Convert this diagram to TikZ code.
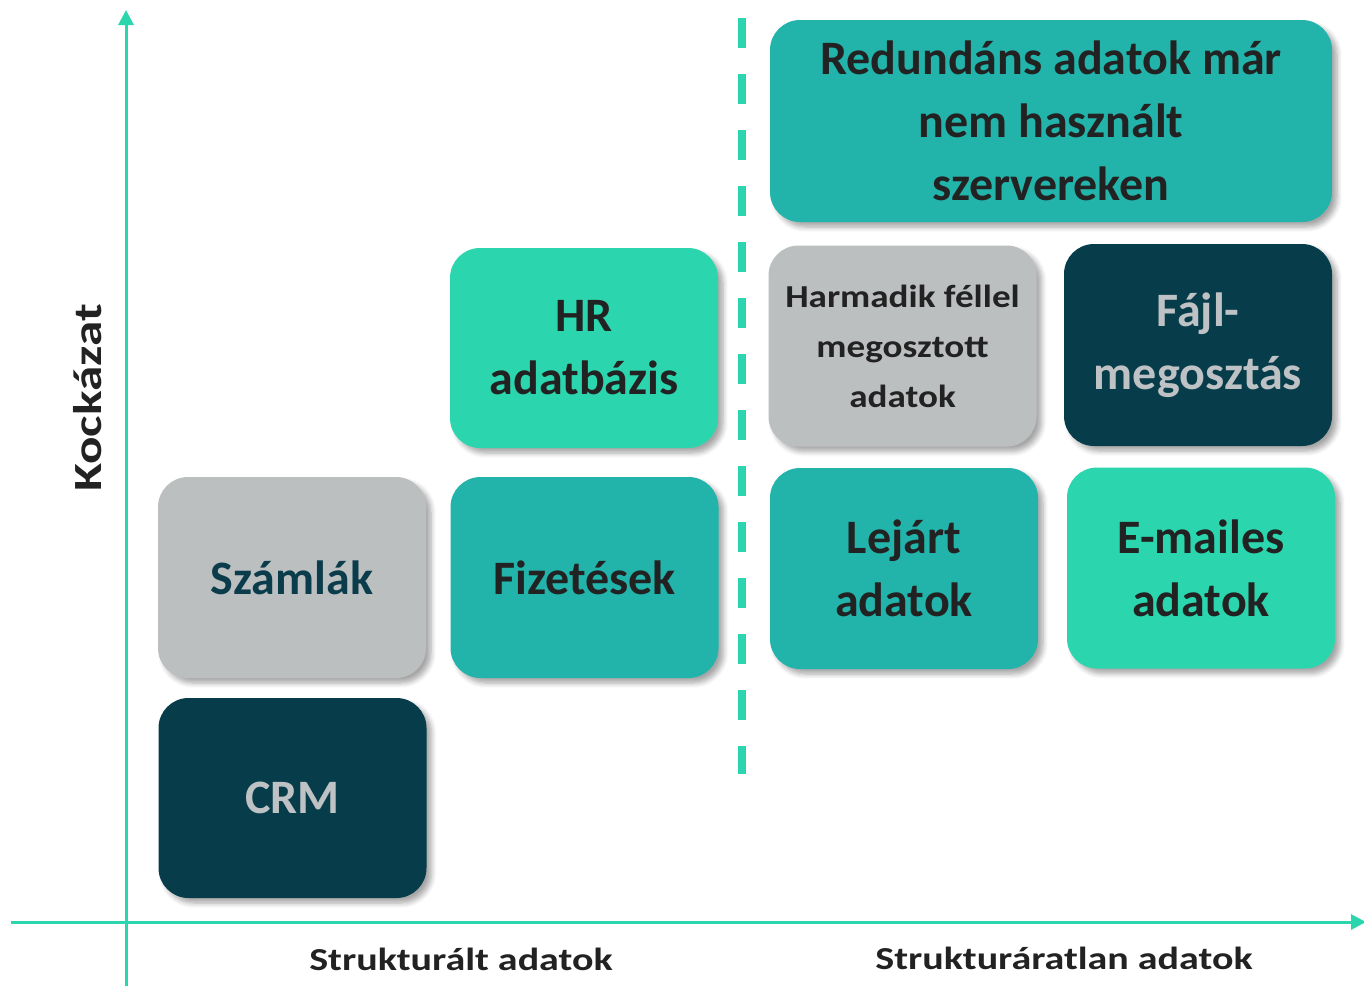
\documentclass[tikz,border=0pt]{standalone}
\usepackage{fontspec}
\setmainfont{Carlito}
\newfontfamily\labelfont[FakeStretch=1.25]{Carlito}
\newfontfamily\kockfont[FakeStretch=1.28]{Carlito}
\newfontfamily\harmfont[FakeStretch=1.16]{Carlito}
\usetikzlibrary{arrows.meta,shadows.blur}
\definecolor{mint}{HTML}{2BD6AE}
\definecolor{tealc}{HTML}{22B3AA}
\definecolor{darkc}{HTML}{073D4B}
\definecolor{grayc}{HTML}{BCBFC0}
\definecolor{txtdark}{HTML}{222222}
\definecolor{txtlight}{HTML}{BEC2C4}
\definecolor{txtnavy}{HTML}{0B3C4B}
\tikzset{
  card/.style={rectangle, rounded corners=30pt, minimum width=268pt, minimum height=201pt,
    align=center, inner sep=0pt, font=\bfseries\fontsize{48}{63}\selectfont,
    blur shadow={shadow xshift=5pt, shadow yshift=-5pt, shadow blur steps=6, shadow blur radius=5pt, shadow opacity=35}},
  mintcard/.style={card, fill=mint, text=txtdark},
  tealcard/.style={card, fill=tealc, text=txtdark},
  darkcard/.style={card, fill=darkc, text=txtlight},
  graycard/.style={card, fill=grayc},
  axis/.style={draw=mint, line width=3pt},
  axlabel/.style={font=\labelfont\bfseries\fontsize{32}{40}\selectfont, text=txtdark, inner sep=0pt},
}
\begin{document}
\begin{tikzpicture}[x=1pt,y=-1pt]
\useasboundingbox (0,0) rectangle (1364,986);
% axes
\coordinate (vbot) at (126,986);
\coordinate (vtop) at (126,10);
\coordinate (hleft) at (11,922);
\coordinate (hright) at (1366,922);
\draw[axis,-{Triangle[length=15pt,width=15pt]}] (vbot) -- (vtop);
\draw[axis,-{Triangle[length=15pt,width=15pt]}] (hleft) -- (hright);
% dashed separator
\coordinate (dtop) at (742,18);
\coordinate (dbot) at (742,774);
\draw[draw=mint, line width=8pt, dash pattern=on 30pt off 26pt] (dtop) -- (dbot);
% cards
\node[tealcard, minimum width=562pt, minimum height=202pt] (red) at (1051,121) {Redundáns adatok már\\nem használt\\szervereken};
\node[mintcard, minimum height=200pt] (hr) at (584,348) {HR\\adatbázis};
\node[graycard, text=txtdark, font=\harmfont\bfseries\fontsize{32}{50}\selectfont] (harm) at (902.5,346) {Harmadik féllel\\megosztott\\adatok};
\node[darkcard, minimum height=202pt] (fajl) at (1198,345) {Fájl-\\megosztás};
\node[graycard, text=txtnavy] (szamla) at (292,577.5) {Számlák};
\node[tealcard] (fiz) at (584.5,577.5) {Fizetések};
\node[tealcard] (lej) at (904,568.5) {Lejárt\\adatok};
\node[mintcard] (email) at (1201,568) {E-mailes\\adatok};
\node[darkcard, minimum height=200pt] (crm) at (292.5,798) {CRM};
% axis labels
\node[axlabel, rotate=90, font=\kockfont\bfseries\fontsize{40}{48}\selectfont] (kock) at (88,398) {Kockázat};
\node[axlabel] (strukt) at (461,959) {Strukturált adatok};
\node[axlabel] (strukt2) at (1064,958) {Strukturáratlan adatok};
\end{tikzpicture}
\end{document}
